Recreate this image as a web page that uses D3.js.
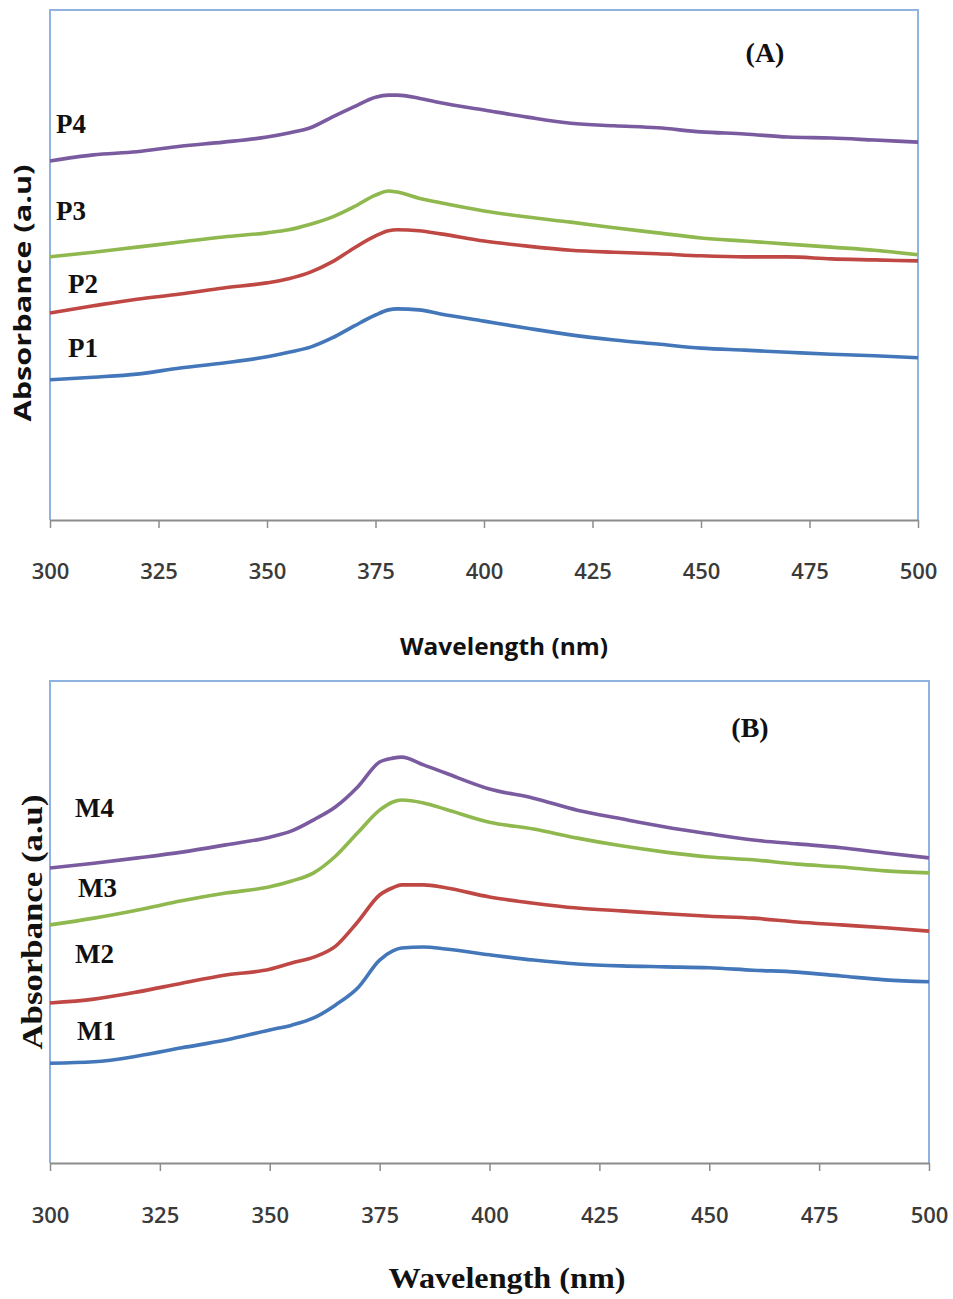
<!DOCTYPE html>
<html>
<head>
<meta charset="utf-8">
<script src="https://cdn.jsdelivr.net/npm/d3@7"></script>
<style>
  html, body { margin: 0; padding: 0; background: #ffffff; }
  svg { display: block; }
</style>
</head>
<body>
<svg id="chart" width="953" height="1299"></svg>
<script>
// ---------- DATA ----------
const wavelengths = [300, 310, 320, 330, 340, 350, 355, 360, 365, 370, 375, 378, 380, 385, 390, 400, 410, 420, 430, 440, 450, 460, 470, 480, 490, 500];
const xTicks = [300, 325, 350, 375, 400, 425, 450, 475, 500];

const P1 = [0.275, 0.280, 0.286, 0.298, 0.308, 0.320, 0.329, 0.339, 0.357, 0.380, 0.402, 0.412, 0.414, 0.412, 0.404, 0.390, 0.376, 0.363, 0.353, 0.345, 0.337, 0.333, 0.329, 0.325, 0.322, 0.318];
const P2 = [0.406, 0.420, 0.433, 0.443, 0.455, 0.465, 0.473, 0.486, 0.506, 0.533, 0.557, 0.567, 0.569, 0.567, 0.561, 0.547, 0.537, 0.529, 0.525, 0.522, 0.518, 0.516, 0.516, 0.512, 0.510, 0.508];
const P3 = [0.516, 0.525, 0.535, 0.545, 0.555, 0.563, 0.569, 0.580, 0.594, 0.614, 0.637, 0.645, 0.643, 0.631, 0.622, 0.606, 0.594, 0.584, 0.573, 0.563, 0.553, 0.547, 0.541, 0.535, 0.529, 0.520];
const P4 = [0.704, 0.716, 0.722, 0.733, 0.741, 0.751, 0.759, 0.769, 0.790, 0.810, 0.829, 0.833, 0.833, 0.827, 0.818, 0.804, 0.790, 0.778, 0.773, 0.769, 0.761, 0.757, 0.751, 0.749, 0.745, 0.741];

const M1 = [0.207, 0.210, 0.222, 0.239, 0.255, 0.276, 0.286, 0.301, 0.328, 0.363, 0.421, 0.440, 0.446, 0.448, 0.444, 0.432, 0.421, 0.413, 0.409, 0.407, 0.405, 0.400, 0.396, 0.388, 0.380, 0.376];
const M2 = [0.332, 0.340, 0.355, 0.373, 0.390, 0.402, 0.415, 0.427, 0.450, 0.500, 0.556, 0.571, 0.577, 0.577, 0.571, 0.552, 0.539, 0.529, 0.523, 0.517, 0.512, 0.508, 0.500, 0.494, 0.488, 0.481];
const M3 = [0.494, 0.508, 0.525, 0.544, 0.560, 0.573, 0.585, 0.602, 0.637, 0.685, 0.732, 0.749, 0.753, 0.747, 0.734, 0.707, 0.693, 0.674, 0.658, 0.645, 0.635, 0.629, 0.620, 0.614, 0.606, 0.602];
const M4 = [0.612, 0.622, 0.633, 0.645, 0.660, 0.676, 0.689, 0.712, 0.739, 0.780, 0.832, 0.840, 0.842, 0.826, 0.809, 0.776, 0.757, 0.732, 0.714, 0.697, 0.683, 0.670, 0.662, 0.654, 0.643, 0.633];

const seriesNamesA = ["P1", "P2", "P3", "P4"];
const seriesNamesB = ["M1", "M2", "M3", "M4"];
const panelTitles = ["(A)", "(B)"];
const xTitle = "Wavelength (nm)";
const yTitle = "Absorbance (a.u)";

// ---------- STYLE / LAYOUT ----------
const colors = ["#4377b9", "#bf4744", "#8fb84e", "#7a5ba0"];
const svg = d3.select("#chart");
svg.append("rect").attr("width", 953).attr("height", 1299).attr("fill", "#fff");

const panels = [
  {
    series: [P1, P2, P3, P4], names: seriesNamesA, title: panelTitles[0],
    left: 50, right: 918, top: 10, bottom: 520,
    tickPad: 35, tickFont: "'Open Sans', sans-serif",
    labelFont: "'Liberation Serif', 'Times New Roman', serif",
    labelPos: [[68, 357], [68, 293], [56, 220], [56, 133]],
    titlePos: [765, 62],
    xTitle: { x: 504, y: 655, len: 208, font: "'Open Sans', sans-serif", size: 24 },
    yTitle: { x: 31, y: 293, len: 257, font: "'Open Sans', sans-serif", size: 24 }
  },
  {
    series: [M1, M2, M3, M4], names: seriesNamesB, title: panelTitles[1],
    left: 50, right: 929, top: 681, bottom: 1163,
    tickPad: 36, tickFont: "'Open Sans', sans-serif",
    labelFont: "'Liberation Serif', 'Times New Roman', serif",
    labelPos: [[77, 1040], [75, 963], [78, 897], [75, 817]],
    titlePos: [750, 737],
    xTitle: { x: 507, y: 1288, len: 237, font: "'Liberation Serif', 'Times New Roman', serif", size: 30 },
    yTitle: { x: 42, y: 922, len: 255, font: "'Liberation Serif', 'Times New Roman', serif", size: 30 }
  }
];

panels.forEach(p => {
  const g = svg.append("g");
  const x = d3.scaleLinear().domain([300, 500]).range([p.left, p.right]);
  const y = d3.scaleLinear().domain([0, 1]).range([p.bottom, p.top]);

  // frame (top, right, left) in light blue
  g.append("path")
    .attr("d", `M${p.left},${p.bottom}V${p.top}H${p.right}V${p.bottom}`)
    .attr("fill", "none").attr("stroke", "#8fb2de").attr("stroke-width", 2);

  // series lines
  const line = d3.line()
    .x((d, i) => x(wavelengths[i]))
    .y(d => y(d))
    .curve(d3.curveMonotoneX);
  p.series.forEach((s, i) => {
    g.append("path").datum(s)
      .attr("d", line)
      .attr("fill", "none")
      .attr("stroke", colors[i])
      .attr("stroke-width", 3.6)
      .attr("stroke-linejoin", "round");
  });

  // x axis
  const ax = g.append("g")
    .attr("transform", `translate(0,${p.bottom})`)
    .call(d3.axisBottom(x).tickValues(xTicks).tickSize(8).tickSizeOuter(0).tickPadding(p.tickPad).tickFormat(d3.format("d")));
  ax.select(".domain").attr("stroke", "#8c8c8c").attr("stroke-width", 2);
  ax.selectAll(".tick line").attr("stroke", "#8c8c8c").attr("stroke-width", 1.5);
  ax.selectAll(".tick text")
    .attr("font-family", p.tickFont)
    .attr("font-size", 22)
    .attr("font-weight", 600)
    .attr("fill", "#3a3a3a");

  // series labels
  p.names.forEach((n, i) => {
    g.append("text")
      .attr("x", p.labelPos[i][0]).attr("y", p.labelPos[i][1])
      .attr("font-family", p.labelFont)
      .attr("font-weight", "bold")
      .attr("font-size", 27)
      .attr("fill", "#111")
      .text(n);
  });

  // panel title
  g.append("text")
    .attr("x", p.titlePos[0]).attr("y", p.titlePos[1])
    .attr("text-anchor", "middle")
    .attr("font-family", "'Liberation Serif', 'Times New Roman', serif")
    .attr("font-weight", "bold")
    .attr("font-size", 28)
    .attr("fill", "#111")
    .text(p.title);

  // axis titles
  g.append("text")
    .attr("x", p.xTitle.x).attr("y", p.xTitle.y)
    .attr("text-anchor", "middle")
    .attr("font-family", p.xTitle.font)
    .attr("font-weight", "bold")
    .attr("font-size", p.xTitle.size)
    .attr("textLength", p.xTitle.len)
    .attr("lengthAdjust", "spacingAndGlyphs")
    .attr("fill", "#111")
    .text(xTitle);

  g.append("text")
    .attr("transform", `translate(${p.yTitle.x},${p.yTitle.y}) rotate(-90)`)
    .attr("text-anchor", "middle")
    .attr("font-family", p.yTitle.font)
    .attr("font-weight", "bold")
    .attr("font-size", p.yTitle.size)
    .attr("textLength", p.yTitle.len)
    .attr("lengthAdjust", "spacingAndGlyphs")
    .attr("fill", "#111")
    .text(yTitle);
});
</script>
</body>
</html>
